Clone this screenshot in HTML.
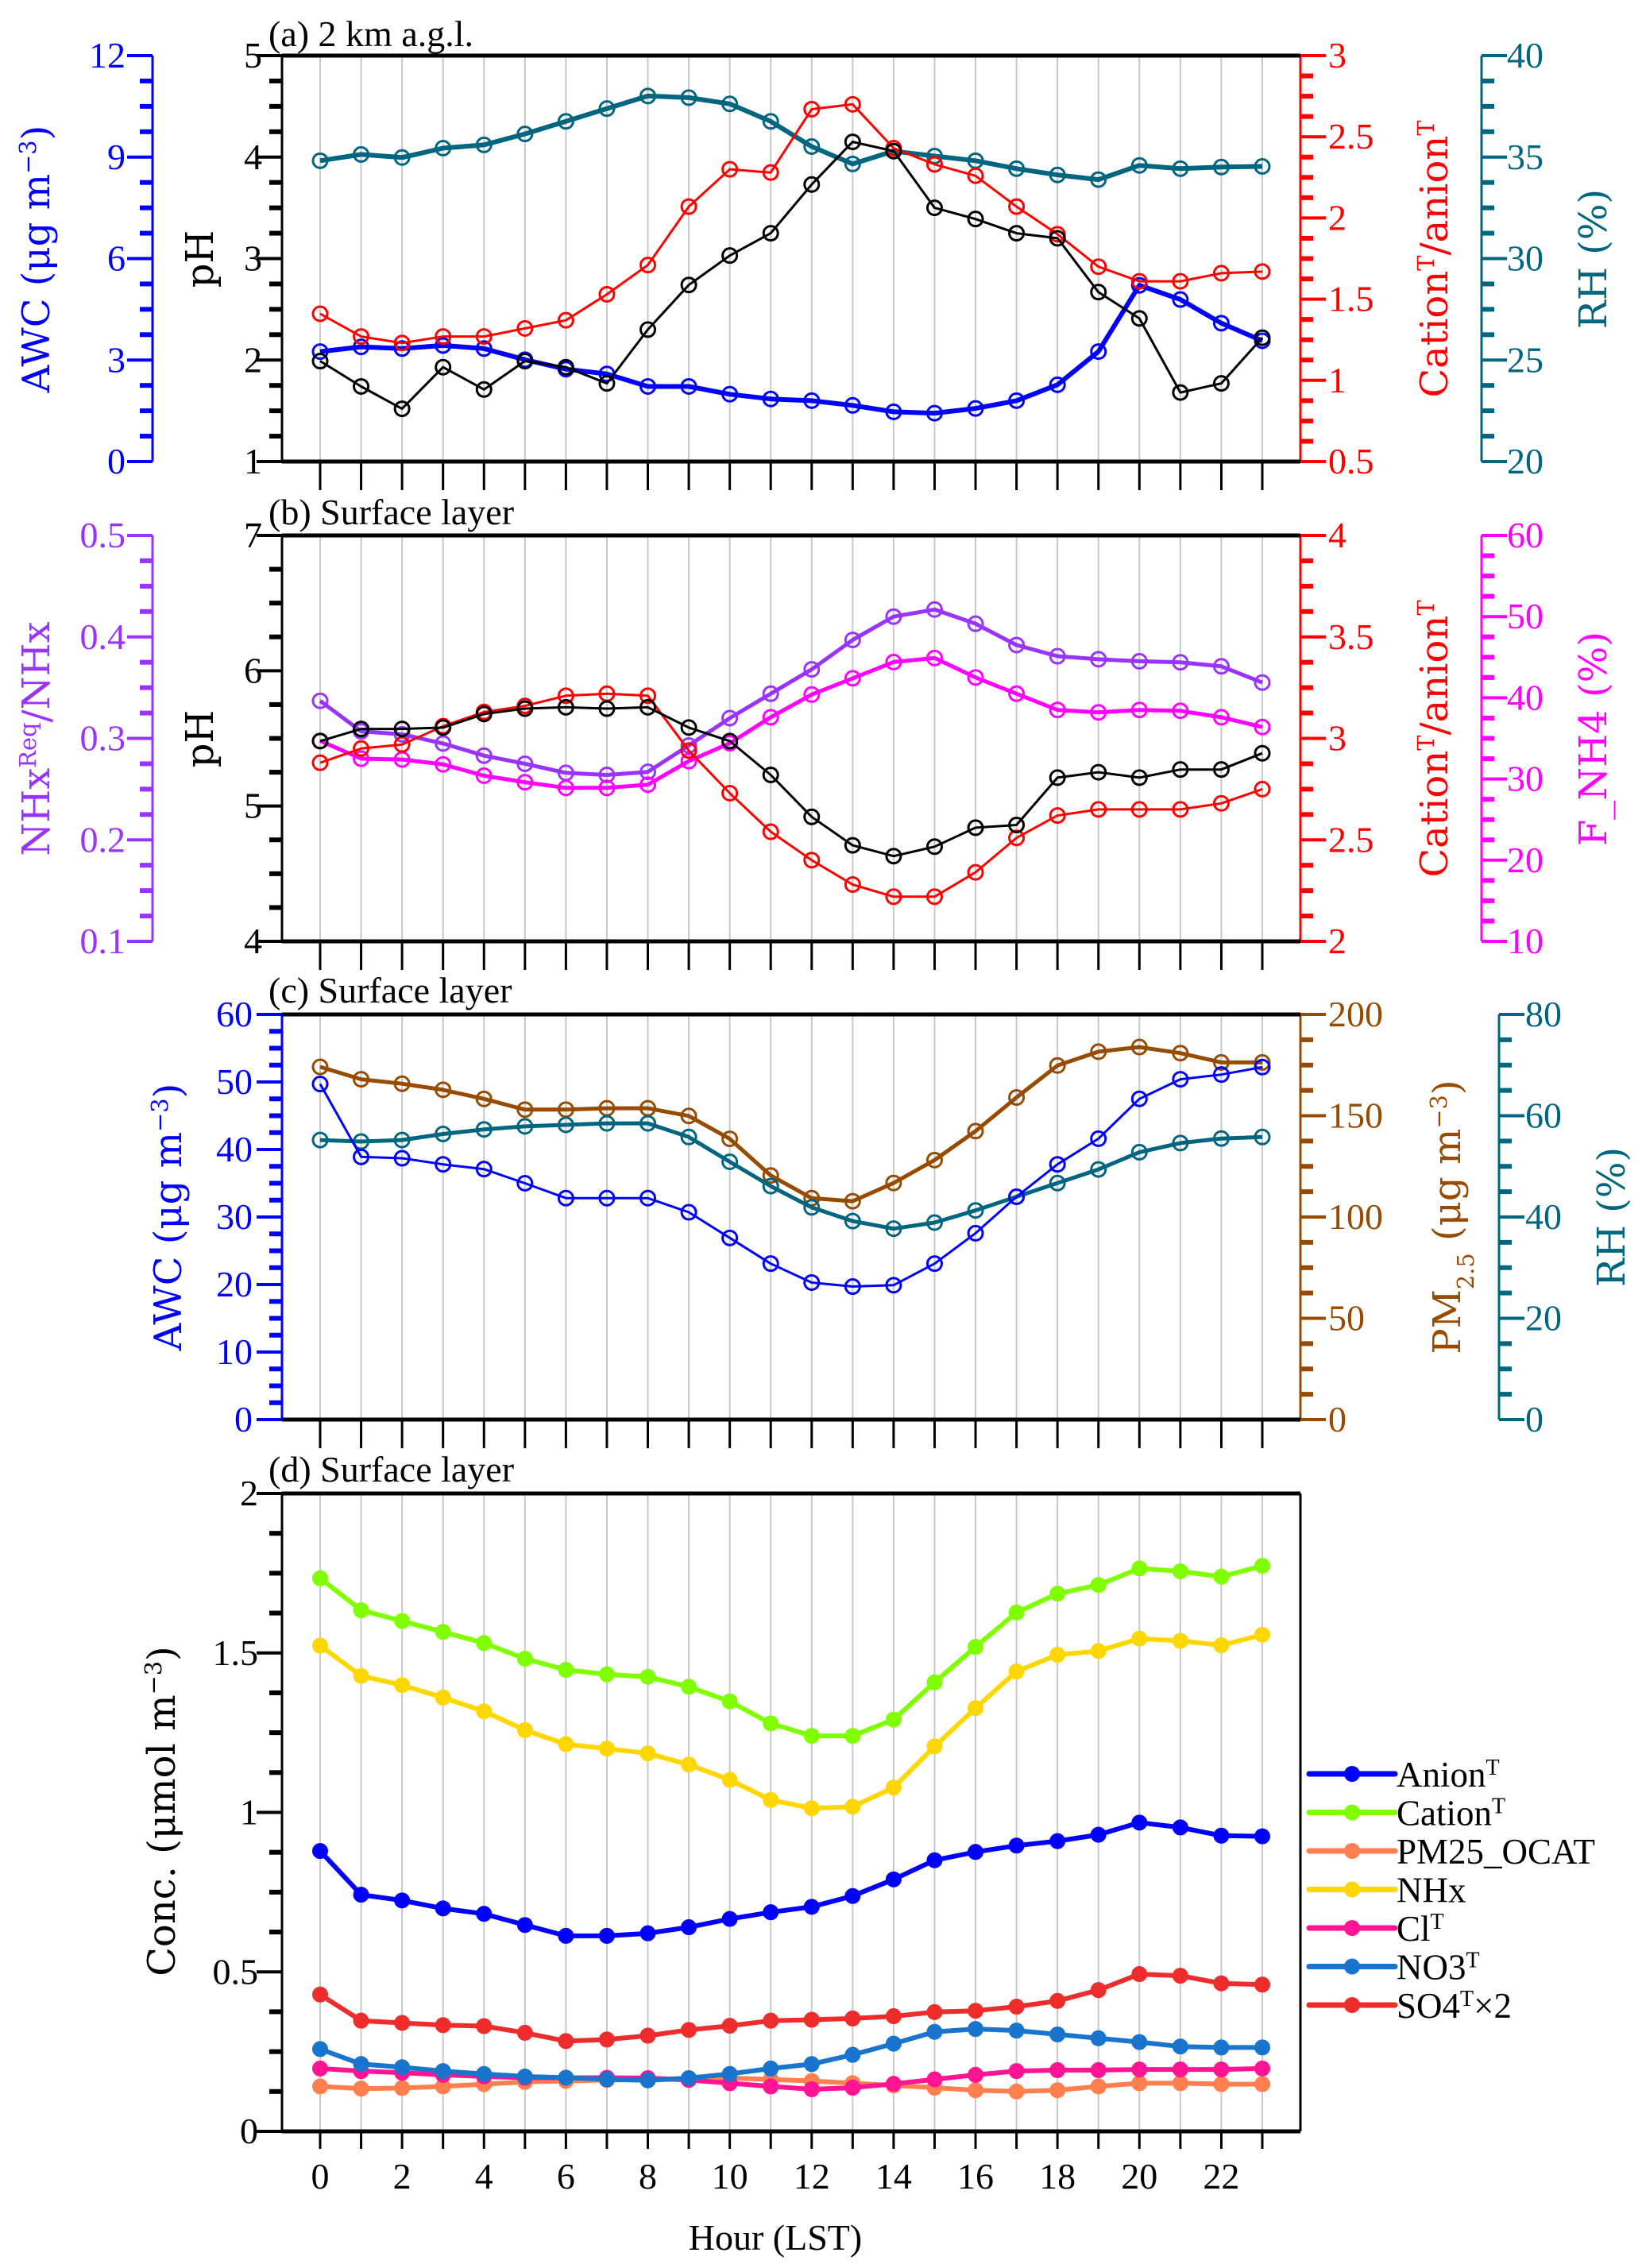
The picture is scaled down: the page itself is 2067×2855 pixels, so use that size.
<!DOCTYPE html>
<html><head><meta charset="utf-8"><style>
html,body{margin:0;padding:0;background:#fff;}
svg{display:block;}
svg text{font-family:"Liberation Serif","Times New Roman",serif;}
svg text.ttl{font-family:"DejaVu Serif","Liberation Serif",serif;}
</style></head><body>
<svg id="chart" width="2067" height="2855" viewBox="0 0 2067 2855" xmlns="http://www.w3.org/2000/svg"></svg>
<script>
const hours=[0,1,2,3,4,5,6,7,8,9,10,11,12,13,14,15,16,17,18,19,20,21,22,23];
const xTickLabels=[0,2,4,6,8,10,12,14,16,18,20,22];
// Panel a
const aPH=[1.99,1.74,1.52,1.93,1.71,1.99,1.93,1.77,2.30,2.74,3.03,3.25,3.73,4.15,4.06,3.50,3.39,3.25,3.20,2.67,2.41,1.68,1.77,2.22];
const aAWC=[3.25,3.39,3.34,3.43,3.34,3.01,2.73,2.59,2.22,2.22,1.99,1.85,1.80,1.66,1.47,1.43,1.57,1.80,2.27,3.25,5.21,4.79,4.09,3.57];
const aRatio=[1.41,1.27,1.23,1.27,1.27,1.32,1.37,1.53,1.71,2.07,2.30,2.28,2.67,2.70,2.43,2.33,2.26,2.07,1.90,1.70,1.61,1.61,1.66,1.67];
const aRH=[34.82,35.13,34.98,35.44,35.60,36.14,36.76,37.39,38.01,37.93,37.62,36.76,35.52,34.66,35.29,35.05,34.82,34.43,34.12,33.89,34.59,34.43,34.51,34.54];
// Panel b
const bPH=[5.48,5.57,5.57,5.58,5.68,5.72,5.73,5.72,5.73,5.58,5.48,5.23,4.92,4.71,4.63,4.70,4.84,4.86,5.21,5.25,5.21,5.27,5.27,5.39];
const bRatio=[2.88,2.95,2.97,3.06,3.13,3.16,3.21,3.22,3.21,2.94,2.73,2.54,2.40,2.28,2.22,2.22,2.34,2.51,2.62,2.65,2.65,2.65,2.68,2.75];
const bNHx=[0.337,0.307,0.304,0.295,0.283,0.275,0.266,0.264,0.267,0.293,0.320,0.344,0.368,0.397,0.420,0.427,0.413,0.392,0.381,0.378,0.376,0.375,0.371,0.355];
const bFNH4=[34.7,32.5,32.4,31.8,30.4,29.6,28.9,28.9,29.3,32.2,34.4,37.6,40.4,42.4,44.4,44.9,42.5,40.5,38.5,38.2,38.5,38.4,37.6,36.4];
// Panel c
const cAWC=[49.7,38.9,38.7,37.8,37.1,35.0,32.8,32.8,32.8,30.7,26.9,23.1,20.3,19.7,19.9,23.1,27.6,33.0,37.8,41.6,47.5,50.4,51.1,52.2];
const cPM=[174.1,168.0,165.8,162.8,158.3,153.0,153.0,153.7,153.7,149.9,138.6,120.5,109.3,107.8,116.8,128.1,142.4,159.0,174.8,181.6,183.9,180.9,176.3,176.3];
const cRH=[55.2,54.9,55.2,56.4,57.3,57.9,58.2,58.5,58.5,55.8,50.9,46.1,41.9,39.2,37.7,38.9,41.3,44.0,46.7,49.4,52.8,54.6,55.5,55.8];
// Panel d
const dAnion=[0.879,0.742,0.724,0.699,0.682,0.647,0.613,0.613,0.621,0.640,0.666,0.687,0.704,0.738,0.790,0.850,0.876,0.896,0.910,0.930,0.968,0.953,0.927,0.925];
const dCation=[1.734,1.634,1.600,1.566,1.531,1.482,1.447,1.433,1.425,1.394,1.348,1.279,1.240,1.240,1.291,1.408,1.519,1.627,1.686,1.713,1.765,1.756,1.739,1.773];
const dOCAT=[0.141,0.134,0.136,0.141,0.148,0.155,0.158,0.161,0.163,0.163,0.167,0.163,0.158,0.151,0.144,0.137,0.129,0.125,0.129,0.141,0.151,0.151,0.148,0.148];
const dNHx=[1.523,1.428,1.399,1.360,1.317,1.258,1.214,1.200,1.185,1.150,1.102,1.039,1.013,1.018,1.078,1.207,1.327,1.442,1.494,1.506,1.545,1.538,1.524,1.557];
const dCl=[0.197,0.189,0.184,0.177,0.172,0.168,0.168,0.168,0.167,0.161,0.151,0.141,0.132,0.137,0.149,0.163,0.177,0.189,0.192,0.192,0.194,0.194,0.194,0.197];
const dNO3=[0.258,0.211,0.201,0.189,0.180,0.172,0.168,0.163,0.160,0.167,0.180,0.197,0.211,0.240,0.275,0.312,0.321,0.316,0.304,0.292,0.280,0.266,0.263,0.263];
const dSO4=[0.429,0.347,0.340,0.333,0.330,0.309,0.283,0.288,0.300,0.318,0.331,0.347,0.350,0.354,0.361,0.374,0.378,0.391,0.409,0.443,0.493,0.488,0.464,0.460];

const NS="http://www.w3.org/2000/svg";
const svg=document.getElementById('chart');
const PL=355,PR=1637,X0=403,X1=1589;
const SERIF='font-family:"Liberation Serif",serif';
function x(h){return X0+(X1-X0)*h/23;}
function mk(parent,tag,attrs,name,inter){
  const el=document.createElementNS(NS,tag);
  for(const k in attrs) el.setAttribute(k,attrs[k]);
  if(tag==='text' && !attrs.style) el.setAttribute('style',SERIF);
  
  
  parent.appendChild(el);return el;
}
function scale(min,max,top,bot){return v=>bot-(v-min)/(max-min)*(bot-top);}
function fmt(v){return String(Math.round(v*1000)/1000);}
function vaxis(g,xp,top,bot,min,max,major,minor,dir,color,labelX,anchor,name,lineOn){
  const y=scale(min,max,top,bot);
  if(lineOn) mk(g,'line',{x1:xp,x2:xp,y1:top,y2:bot,stroke:color,'stroke-width':3},name+'-line');
  const n=Math.round((max-min)/minor);
  for(let i=0;i<=n;i++){
    const v=min+i*minor; const isMaj=Math.abs((v-min)/major-Math.round((v-min)/major))<1e-6;
    const len=isMaj?32:16;
    mk(g,'line',{x1:xp,x2:xp+dir*len,y1:y(v),y2:y(v),stroke:color,'stroke-width':isMaj?4:6},name+'-tick');
    if(isMaj){
      const t=mk(g,'text',{x:labelX,y:y(v)+15,fill:color,'font-size':46,'text-anchor':anchor},name+'-label');
      t.textContent=fmt(v);
    }
  }
  return y;
}
function title(g,cx,cy,color,parts,name,size){
  const t=mk(g,'text',{x:0,y:0,transform:`translate(${cx},${cy}) rotate(-90)`,'text-anchor':'middle',fill:color,'font-size':size||48,'style':'font-family:"DejaVu Serif","Liberation Serif",serif'},name);
  parts.forEach(p=>{const s=document.createElementNS(NS,'tspan');
    if(p[1]==='sup'){s.setAttribute('baseline-shift','super');s.setAttribute('font-size',(size||48)*0.6);}
    if(p[1]==='sub'){s.setAttribute('baseline-shift','sub');s.setAttribute('font-size',(size||48)*0.6);}
    s.textContent=p[0];t.appendChild(s);});
  return t;
}
function series(g,arr,y,color,w,name,filled){
  const pts=arr.map((v,i)=>x(hours[i]).toFixed(1)+','+y(v).toFixed(1)).join(' ');
  mk(g,'polyline',{points:pts,fill:'none',stroke:color,'stroke-width':w,'stroke-linejoin':'round'},name+'-line');
  arr.forEach((v,i)=>{
    if(filled){
      mk(g,'circle',{cx:x(hours[i]),cy:y(v),r:9,fill:color,stroke:color,'stroke-width':2},name+'-point');
    } else {
      mk(g,'circle',{cx:x(hours[i]),cy:y(v),r:9,fill:'none',stroke:color,'stroke-width':3},name+'-point');
    }
  });
}
function frame(g,top,bot,leftColor,rightColor,tickLen,name){
  hours.forEach(h=>mk(g,'line',{x1:x(h),x2:x(h),y1:top,y2:bot,stroke:'#c8c8c8','stroke-width':2},name+'-grid'));
  mk(g,'line',{x1:PL,x2:PL,y1:top,y2:bot,stroke:leftColor,'stroke-width':3},name+'-left-border');
  mk(g,'line',{x1:PR,x2:PR,y1:top,y2:bot,stroke:rightColor,'stroke-width':3},name+'-right-border');
  mk(g,'line',{x1:PL,x2:PR,y1:top,y2:top,stroke:'#000','stroke-width':5},name+'-top-border');
  mk(g,'line',{x1:PL,x2:PR,y1:bot,y2:bot,stroke:'#000','stroke-width':5},name+'-bottom-border');
  hours.forEach(h=>mk(g,'line',{x1:x(h),x2:x(h),y1:bot,y2:bot+tickLen,stroke:'#000','stroke-width':3},name+'-x-tick'));
}
function ptitle(g,txt,yb,name){const t=mk(g,'text',{x:338,y:yb,'font-size':46},name);t.textContent=txt;}

const BLUE='#0000ff',RED='#ff0000',TEAL='#006680',PUR='#9933ff',MAG='#ff00ff',BROWN='#964B00';
// ---------- Panel A
{const top=70,bot=581;const g=mk(svg,'g',{},'panel-a');
frame(g,top,bot,'#000',RED,36,'panel-a');
ptitle(g,'(a) 2 km a.g.l.',58,'panel-a-title');
const yA=vaxis(g,192,top,bot,0,12,3,0.75,-1,BLUE,158,'end','awc-axis',true);
const yP=vaxis(g,PL,top,bot,1,5,1,0.25,-1,'#000',330,'end','ph-axis',false);
const yR=vaxis(g,PR,top,bot,0.5,3,0.5,0.125,1,RED,1672,'start','ratio-axis',false);
const yH=vaxis(g,1865,top,bot,20,40,5,1.25,1,TEAL,1897,'start','rh-axis',true);
title(g,62,326,BLUE,[['AWC (μg m'],['−3','sup'],[')']],'awc-axis-title');
title(g,268,326,'#000',[['pH']],'ph-axis-title');
title(g,1822,326,RED,[['Cation'],['T','sup'],['/anion'],['T','sup']],'ratio-axis-title');
title(g,2022,326,TEAL,[['RH (%)']],'rh-axis-title');
series(g,aRH,yH,TEAL,6,'rh-series');
series(g,aAWC,yA,BLUE,6,'awc-series');
series(g,aRatio,yR,RED,3,'ratio-series');
series(g,aPH,yP,'#000',3,'ph-series');
}
// ---------- Panel B
{const top=674,bot=1185;const g=mk(svg,'g',{},'panel-b');
frame(g,top,bot,'#000',RED,36,'panel-b');
ptitle(g,'(b) Surface layer',660,'panel-b-title');
const yN=vaxis(g,192,top,bot,0.1,0.5,0.1,0.025,-1,PUR,158,'end','nhx-axis',true);
const yP=vaxis(g,PL,top,bot,4,7,1,0.25,-1,'#000',330,'end','ph-axis',false);
const yR=vaxis(g,PR,top,bot,2,4,0.5,0.125,1,RED,1672,'start','ratio-axis',false);
const yF=vaxis(g,1865,top,bot,10,60,10,2.5,1,MAG,1897,'start','fnh4-axis',true);
title(g,62,930,PUR,[['NHx'],['Req','sup'],['/NHx']],'nhx-axis-title');
title(g,268,930,'#000',[['pH']],'ph-axis-title');
title(g,1822,930,RED,[['Cation'],['T','sup'],['/anion'],['T','sup']],'ratio-axis-title');
title(g,2022,930,MAG,[['F_NH4 (%)']],'fnh4-axis-title');
series(g,bNHx,yN,PUR,5,'nhx-series');
series(g,bFNH4,yF,MAG,5,'fnh4-series');
series(g,bRatio,yR,RED,3,'ratio-series');
series(g,bPH,yP,'#000',3,'ph-series');
}
// ---------- Panel C
{const top=1277,bot=1787;const g=mk(svg,'g',{},'panel-c');
frame(g,top,bot,BLUE,BROWN,36,'panel-c');
ptitle(g,'(c) Surface layer',1262,'panel-c-title');
const yA=vaxis(g,PL,top,bot,0,60,10,2.5,-1,BLUE,318,'end','awc-axis',false);
const yM=vaxis(g,PR,top,bot,0,200,50,12.5,1,BROWN,1672,'start','pm25-axis',false);
const yH=vaxis(g,1887,top,bot,0,80,20,5,1,TEAL,1920,'start','rh-axis',true);
title(g,228,1532,BLUE,[['AWC (μg m'],['−3','sup'],[')']],'awc-axis-title');
title(g,1838,1532,BROWN,[['PM'],['2.5','sub'],[' (μg m'],['−3','sup'],[')']],'pm25-axis-title');
title(g,2045,1532,TEAL,[['RH (%)']],'rh-axis-title');
series(g,cPM,yM,BROWN,5,'pm25-series');
series(g,cRH,yH,TEAL,5,'rh-series');
series(g,cAWC,yA,BLUE,3,'awc-series');
}
// ---------- Panel D
{const top=1880,bot=2683;const g=mk(svg,'g',{},'panel-d');
frame(g,top,bot,'#000','#000',22,'panel-d');
ptitle(g,'(d) Surface layer',1865,'panel-d-title');
const yD=vaxis(g,PL,top,bot,0,2,0.5,0.125,-1,'#000',325,'end','conc-axis',false);
title(g,220,2280,'#000',[['Conc. (μmol m'],['−3','sup'],[')']],'conc-axis-title');
xTickLabels.forEach(h=>{const t=mk(g,'text',{x:x(h),y:2755,'font-size':46,'text-anchor':'middle'},'x-tick-label');t.textContent=h;});
const xt=mk(g,'text',{x:976,y:2832,'font-size':46,'text-anchor':'middle'},'x-axis-title');xt.textContent='Hour (LST)';
const S=[[dOCAT,'#ff7f50','ocat',[['PM25_OCAT']]],[dCl,'#ff1493','cl',[['Cl'],['T','sup']]],[dNO3,'#1874cd','no3',[['NO3'],['T','sup']]],[dSO4,'#ee2c2c','so4',[['SO4'],['T','sup'],['×2']]],[dAnion,'#0000ff','anion',[['Anion'],['T','sup']]],[dNHx,'#ffd700','nhx',[['NHx']]],[dCation,'#7fff00','cation',[['Cation'],['T','sup']]]];
S.forEach(s=>series(g,s[0],yD,s[1],6,s[2]+'-series',true));
const order=['anion','cation','ocat','nhx','cl','no3','so4'];
order.forEach((k,i)=>{const s=S.find(q=>q[2]===k);const ly=2233+i*48.5;
  const lg=mk(g,'g',{},'legend-entry-'+k);
  mk(lg,'line',{x1:1648,x2:1756,y1:ly,y2:ly,stroke:s[1],'stroke-width':7,'stroke-linecap':'round'},'legend-swatch');
  mk(lg,'circle',{cx:1702,cy:ly,r:10,fill:s[1]},'legend-marker');
  const t=mk(lg,'text',{x:1758,y:ly+16,'font-size':45},'legend-label');
  s[3].forEach(p=>{const sp=document.createElementNS(NS,'tspan');if(p[1]==='sup'){sp.setAttribute('baseline-shift','super');sp.setAttribute('font-size',28);}sp.textContent=p[0];t.appendChild(sp);});
});
}
</script>
</body></html>
